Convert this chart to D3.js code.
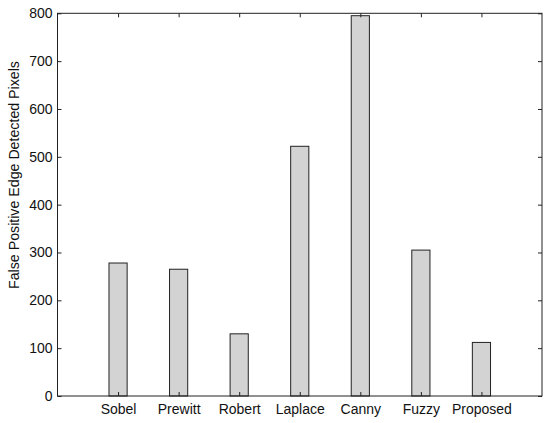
<!DOCTYPE html>
<html>
<head>
<meta charset="utf-8">
<script src="https://cdn.jsdelivr.net/npm/d3@7"></script>
<style>
  body { margin: 0; background: #fff; }
  text { font-family: "Liberation Sans", Arial, sans-serif; }
</style>
</head>
<body>
<svg id="chart" width="550" height="423"></svg>
<script>
// data
var methods = ["Sobel", "Prewitt", "Robert", "Laplace", "Canny", "Fuzzy", "Proposed"];
var falsePositives = [278, 265, 130, 522, 795, 305, 112];
var yTicks = [0, 100, 200, 300, 400, 500, 600, 700, 800];

var svg = d3.select("#chart");
// note: "top" is a reserved window prop, so prefixed names here
var plotL = 57.5, plotR = 542, plotT = 13.3, plotB = 396;

// x is numeric 0..8 like the matlab default, category i sits at i+1
var x = d3.scaleLinear().domain([0, methods.length + 1]).range([plotL, plotR]);
var y = d3.scaleLinear().domain([0, 800]).range([plotB, plotT]);
var barW = (x(1) - x(0)) * 0.3;

var ink = "#222";

// bars
svg.append("g").selectAll("rect")
    .data(falsePositives)
    .enter().append("rect")
    .attr("x", function(d, i){ return x(i + 1) - barW / 2; })
    .attr("y", function(d){ return y(d); })
    .attr("width", barW)
    .attr("height", function(d){ return y(0) - y(d); })
    .style("fill", "#d3d3d3")
    .style("stroke", ink)
    .style("stroke-width", 1);

// axes - inward ticks, box all round
var idx = d3.range(1, methods.length + 1);
var xAxis = d3.axisBottom(x).tickValues(idx).tickSize(-4).tickPadding(8)
    .tickFormat(function(d){ return methods[d - 1]; });
var yAxis = d3.axisLeft(y).tickValues(yTicks).tickSize(-4).tickPadding(5);

var gx = svg.append("g").attr("transform", "translate(0," + plotB + ")").call(xAxis);
var gy = svg.append("g").attr("transform", "translate(" + plotL + ",0)").call(yAxis);
var gxt = svg.append("g").attr("transform", "translate(0," + plotT + ")")
    .call(d3.axisTop(x).tickValues(idx).tickSize(-4).tickFormat(""));
var gyr = svg.append("g").attr("transform", "translate(" + plotR + ",0)")
    .call(d3.axisRight(y).tickValues(yTicks).tickSize(-4).tickFormat(""));

[gx, gy, gxt, gyr].forEach(function(g){
    g.select(".domain").remove();
    g.selectAll("line").style("stroke", ink);
    g.selectAll("text").style("font-size", "14px").style("fill", "#111")
        .style("font-family", "'Liberation Sans', Arial, sans-serif");
});

svg.append("rect")
    .attr("x", plotL).attr("y", plotT)
    .attr("width", plotR - plotL).attr("height", plotB - plotT)
    .style("fill", "none").style("stroke", ink).style("stroke-width", 1);

// y label (sits a bit above the axes middle in the original)
svg.append("text")
    .attr("transform", "translate(19,175) rotate(-90)")
    .attr("text-anchor", "middle")
    .style("font-size", "14.2px")
    .style("fill", "#111")
    .text("False Positive Edge Detected Pixels");
</script>
</body>
</html>
